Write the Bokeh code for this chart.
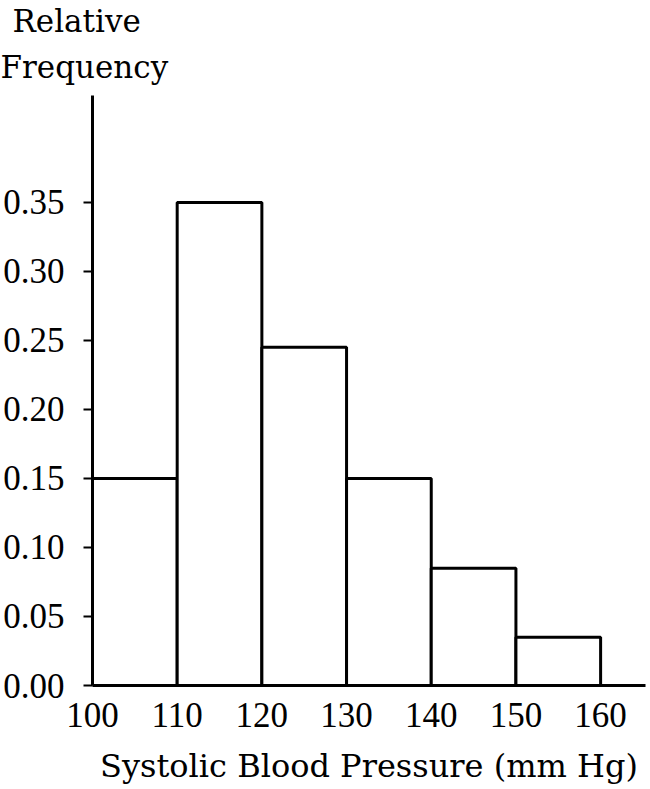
from bokeh.plotting import figure
from bokeh.models import Range1d, FixedTicker, Title
from bokeh.embed import file_html
from bokeh.resources import INLINE

# Data
bin_left = [100, 110, 120, 130, 140, 150]
bin_right = [110, 120, 130, 140, 150, 160]
rel_freq = [0.15, 0.35, 0.245, 0.15, 0.085, 0.035]
x_ticks = [100, 110, 120, 130, 140, 150, 160]
y_ticks = [0.0, 0.05, 0.10, 0.15, 0.20, 0.25, 0.30, 0.35]
y_tick_labels = ["0.00", "0.05", "0.10", "0.15", "0.20", "0.25", "0.30", "0.35"]
x_title = "Systolic Blood Pressure (mm Hg)"
y_title_lines = ["Relative", "Frequency"]

W, H = 648, 788
p = figure(width=W, height=H, output_backend="svg", toolbar_location=None,
           x_range=Range1d(100, 165.3), y_range=Range1d(0, 0.4275),
           min_border_left=92, min_border_right=3, min_border_top=95,
           min_border_bottom=103)
p.outline_line_color = None
p.xgrid.visible = False
p.ygrid.visible = False
p.background_fill_color = "white"
p.border_fill_color = "white"

p.quad(left=bin_left, right=bin_right, top=rel_freq, bottom=0,
       fill_color="white", line_color="black", line_width=3)

tick_font = "Liberation Serif"
label_font = "DejaVu Serif"

xa = p.xaxis[0]
xa.ticker = FixedTicker(ticks=x_ticks)
xa.axis_line_width = 3
xa.axis_line_color = "black"
xa.major_tick_out = 0
xa.major_tick_in = 0
xa.minor_tick_out = 0
xa.minor_tick_in = 0
xa.major_label_text_font = tick_font
xa.major_label_text_font_size = "35px"
xa.major_label_text_color = "black"
xa.major_label_standoff = 17
xa.axis_label = x_title
xa.axis_label_text_font = label_font
xa.axis_label_text_font_size = "32px"
xa.axis_label_text_font_style = "normal"
xa.axis_label_text_color = "black"
xa.axis_label_standoff = 17

ya = p.yaxis[0]
ya.ticker = FixedTicker(ticks=y_ticks)
ya.major_label_overrides = {t: l for t, l in zip(y_ticks, y_tick_labels)}
ya.axis_line_width = 3
ya.axis_line_color = "black"
ya.major_tick_out = 9
ya.major_tick_in = 0
ya.major_tick_line_width = 2
ya.minor_tick_out = 0
ya.minor_tick_in = 0
ya.major_label_text_font = tick_font
ya.major_label_text_font_size = "35px"
ya.major_label_text_color = "black"
ya.major_label_standoff = 19

# Two-line title above the y axis
p.add_layout(Title(text=y_title_lines[1], align="left", offset=-92,
                   text_font=label_font, text_font_size="31px",
                   text_font_style="normal", text_color="black",
                   standoff=21), "above")
p.add_layout(Title(text=y_title_lines[0], align="left", offset=-80,
                   text_font=label_font, text_font_size="31px",
                   text_font_style="normal", text_color="black",
                   standoff=-4), "above")

open("out.html", "w").write(file_html(p, INLINE))
